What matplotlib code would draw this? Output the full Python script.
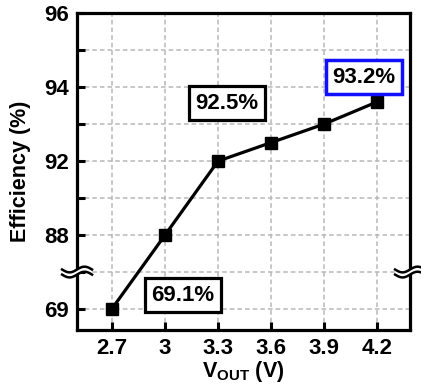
import numpy as np
import matplotlib
matplotlib.use("Agg")
import matplotlib.pyplot as plt
from matplotlib.patches import Polygon

plt.rcParams["font.family"] = ["Liberation Sans", "DejaVu Sans"]
plt.rcParams["font.weight"] = "bold"
plt.rcParams["mathtext.fontset"] = "custom"
plt.rcParams["mathtext.rm"] = "Liberation Sans:bold"
plt.rcParams["mathtext.bf"] = "Liberation Sans:bold"

# Data
vout = [2.7, 3.0, 3.3, 3.6, 3.9, 4.2]
efficiency = [69.1, 88.0, 92.0, 92.5, 93.0, 93.6]
xtick_vals = [2.7, 3.0, 3.3, 3.6, 3.9, 4.2]
xtick_labels = ["2.7", "3", "3.3", "3.6", "3.9", "4.2"]
ytick_major = [69, 88, 92, 94, 96]
ytick_minor = [78.5, 90, 93, 95]
callout_labels = ["92.5%", "93.2%", "69.1%"]

# broken (piecewise) y axis: value knots -> evenly spaced positions
y_knots = [60, 69, 88, 90, 92, 96, 100]
pos_knots = [-1, 0, 2, 3, 4, 8, 12]


def fwd(v):
    return np.interp(v, y_knots, pos_knots)


def inv(p):
    return np.interp(p, pos_knots, y_knots)


fig = plt.figure(figsize=(4.21, 3.87), dpi=100)
ax = fig.add_axes([0.183, 0.147, 0.791, 0.819])
ax.set_yscale("function", functions=(fwd, inv))

ax.plot(vout, efficiency, color="black", lw=2.3, marker="s", ms=8, zorder=5, clip_on=False)

ax.set_xlim(2.502, 4.387)
ax.set_ylim(inv(-0.57), 96)

ax.set_xticks(xtick_vals)
ax.set_xticklabels(xtick_labels)
ax.set_yticks(ytick_major)
ax.set_yticklabels([str(v) for v in ytick_major])
ax.set_yticks(ytick_minor, minor=True)
ax.yaxis.set_minor_formatter(plt.NullFormatter())

ax.tick_params(axis="both", which="both", direction="in", length=6, width=2.2,
               labelsize=16, pad=6)
ax.tick_params(axis="x", top=False)
ax.tick_params(axis="y", right=False)

ax.grid(True, which="both", color="#b8b8b8", linestyle=(0, (3, 2)), lw=1.1, zorder=0)
for s in ax.spines.values():
    s.set_linewidth(2.3)

ax.set_ylabel("Efficiency (%)", fontsize=15.5, fontweight="bold", labelpad=9)
ax.set_xlabel(r"$\mathregular{V_{OUT}}$ (V)", fontsize=15.5, fontweight="bold", labelpad=0)

# callout boxes
box_kw = dict(fontsize=16, ha="center", va="center", zorder=6, transform=ax.transAxes)
ax.text(0.450, 0.716, callout_labels[0],
        bbox=dict(boxstyle="square,pad=0.3", fc="white", ec="black", lw=2.3), **box_kw)
ax.text(0.862, 0.798, callout_labels[1],
        bbox=dict(boxstyle="square,pad=0.3", fc="white", ec="#1010ff", lw=2.5), **box_kw)
ax.text(0.318, 0.110, callout_labels[2],
        bbox=dict(boxstyle="square,pad=0.3", fc="white", ec="black", lw=2.3), **box_kw)

# axis break marks on both spines
yb = (fwd(78.5) + 0.57) / (8 + 0.57)
t = np.linspace(-1, 1, 40)
for xb in (0.0, 1.0):
    xs = xb + t * 0.045
    wave = 0.009 * np.sin(np.pi * t)
    lo = yb - 0.008 + wave
    hi = yb + 0.008 + wave
    poly = np.vstack([np.column_stack([xs, lo]), np.column_stack([xs[::-1], hi[::-1]])])
    ax.add_patch(Polygon(poly, closed=True, transform=ax.transAxes, fc="white",
                         ec="none", clip_on=False, zorder=10))
    ax.plot(xs, lo, color="black", lw=1.8, transform=ax.transAxes, clip_on=False, zorder=11)
    ax.plot(xs, hi, color="black", lw=1.8, transform=ax.transAxes, clip_on=False, zorder=11)

fig.savefig("out.png", dpi=100)
